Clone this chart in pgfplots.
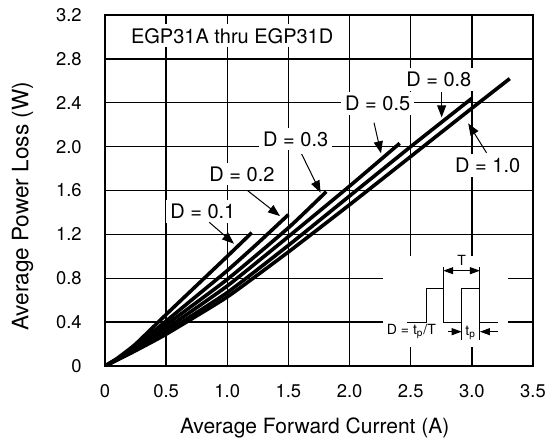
\documentclass[border=0pt]{standalone}
\usepackage{fontspec}
\setmainfont{TeX Gyre Heros}
\usepackage{pgfplots}
\pgfplotsset{compat=1.18}
\usetikzlibrary{arrows.meta}

\begin{document}
\begin{tikzpicture}
\useasboundingbox (-52.5pt,-37.5pt) rectangle (225pt,183pt);
\begin{axis}[
  at={(0,0)}, anchor=south west,
  scale only axis, width=214pt, height=175.5pt,
  xmin=0, xmax=3.5, ymin=0, ymax=3.2,
  xtick={0,0.5,1,1.5,2,2.5,3,3.5},
  ytick={0,0.4,0.8,1.2,1.6,2,2.4,2.8,3.2},
  xticklabels={0,0.5,1.0,1.5,2.0,2.5,3.0,3.5},
  yticklabels={0,0.4,0.8,1.2,1.6,2.0,2.4,2.8,3.2},
  grid=major, major grid style={black, line width=0.65pt},
  axis line style={line width=1.3pt},
  major tick length=0pt,
  tick label style={font=\fontsize{9.2}{10}\selectfont},
  /pgf/number format/assume math mode=true,
  xticklabel style={inner sep=0pt, anchor=north, yshift=-9pt},
  yticklabel style={inner sep=0pt, anchor=east, xshift=-11.5pt},
  xlabel={Average Forward Current (A)},
  ylabel={Average Power Loss (W)},
  xlabel style={font=\fontsize{10.5}{12}\selectfont, at={(axis description cs:0.49,-0.1766)}, anchor=center},
  ylabel style={font=\fontsize{11.3}{12}\selectfont, at={(axis description cs:-0.1928,0.455)}, anchor=center},
  every node/.append style={font=\fontsize{9}{10}\selectfont},
]
% D = 0.1
\addplot[black, line width=1.8pt, smooth, tension=0.3] coordinates {
 (0,0) (0.1,0.07) (0.25,0.2) (0.5,0.47) (0.75,0.735) (1.0,1.0) (1.2,1.215)};
% D = 0.2
\addplot[black, line width=1.8pt, smooth, tension=0.3] coordinates {
 (0,0) (0.1,0.065) (0.25,0.18) (0.5,0.41) (0.75,0.64) (1.0,0.87) (1.25,1.12) (1.5,1.38)};
% D = 0.3
\addplot[black, line width=1.8pt, smooth, tension=0.3] coordinates {
 (0,0) (0.1,0.062) (0.25,0.17) (0.5,0.375) (1.0,0.79) (1.5,1.26) (1.81,1.59)};
% D = 0.5
\addplot[black, line width=1.8pt, smooth, tension=0.3] coordinates {
 (0,0) (0.1,0.06) (0.25,0.155) (0.5,0.34) (1.0,0.73) (1.5,1.18) (2.0,1.64) (2.41,2.03)};
% D = 0.8
\addplot[black, line width=1.8pt, smooth, tension=0.3] coordinates {
 (0,0) (0.1,0.058) (0.25,0.145) (0.5,0.31) (1.0,0.67) (1.5,1.1) (2.0,1.55) (2.5,2.0) (3.0,2.44)};
% D = 1.0
\addplot[black, line width=1.8pt, smooth, tension=0.3] coordinates {
 (0,0) (0.1,0.055) (0.25,0.14) (0.5,0.29) (1.0,0.63) (1.5,1.04) (2.0,1.47) (2.5,1.91) (3.0,2.35) (3.31,2.62)};

% title
\node[fill=white, inner sep=2pt] at (axis cs:1.04,3.01) {EGP31A thru EGP31D};

% labels and arrows
\tikzset{lbl/.style={fill=white, inner sep=2pt}, arr/.style={line width=0.5pt, -{Triangle[length=6pt,width=4.5pt]}}}
\node[lbl] at (axis cs:0.80,1.41) {D = 0.1};
\node[lbl] at (axis cs:1.12,1.75) {D = 0.2};
\node[lbl] at (axis cs:1.56,2.07) {D = 0.3};
\node[lbl] at (axis cs:2.23,2.39) {D = 0.5};
\node[lbl] at (axis cs:2.73,2.61) {D = 0.8};
\node[lbl] at (axis cs:3.13,1.83) {D = 1.0};
\draw[arr] (axis cs:0.853,1.31) -- (axis cs:1.055,1.115);
\draw[arr] (axis cs:1.167,1.598) -- (axis cs:1.431,1.367);
\draw[arr] (axis cs:1.608,1.933) -- (axis cs:1.763,1.58);
\draw[arr] (axis cs:2.2,2.218) -- (axis cs:2.257,1.939);
\draw[arr] (axis cs:2.753,2.50) -- (axis cs:2.753,2.267);
\draw[arr] (axis cs:3.12,1.944) -- (axis cs:2.97,2.212);

% inset
\fill[white] (axis cs:2.273,0.17) rectangle (axis cs:3.295,1.0);
\draw[line width=0.5pt] (axis cs:2.467,0.4) -- (axis cs:2.631,0.4) -- (axis cs:2.631,0.708)
  -- (axis cs:2.766,0.708) -- (axis cs:2.766,0.4) -- (axis cs:2.917,0.4) -- (axis cs:2.917,0.708)
  -- (axis cs:3.066,0.708) -- (axis cs:3.066,0.4) -- (axis cs:3.216,0.4);
\draw[line width=0.5pt] (axis cs:2.766,0.708) -- (axis cs:2.766,0.905);
\draw[line width=0.5pt] (axis cs:3.066,0.708) -- (axis cs:3.066,0.905);
\draw[line width=0.5pt] (axis cs:3.066,0.4) -- (axis cs:3.066,0.237);
\draw[line width=0.5pt] (axis cs:2.917,0.4) -- (axis cs:2.917,0.237);
\draw[line width=0.5pt, {Triangle[length=5pt,width=3.5pt]}-{Triangle[length=5pt,width=3.5pt]}] (axis cs:2.766,0.869) -- (axis cs:3.066,0.869);
\draw[line width=0.5pt, -{Triangle[length=5pt,width=3.5pt]}] (axis cs:2.807,0.313) -- (axis cs:2.917,0.313);
\draw[line width=0.5pt, -{Triangle[length=5pt,width=3.5pt]}] (axis cs:3.216,0.313) -- (axis cs:3.066,0.313);
\node[font=\fontsize{7}{8}\selectfont] at (axis cs:2.917,0.966) {T};
\node[font=\fontsize{7}{8}\selectfont] at (axis cs:2.506,0.313) {D = t\textsubscript{p}/T};
\node[font=\fontsize{7}{8}\selectfont] at (axis cs:2.99,0.30) {t\textsubscript{p}};
\end{axis}
\end{tikzpicture}
\end{document}
